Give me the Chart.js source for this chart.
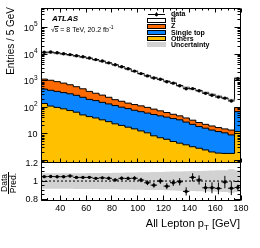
<!DOCTYPE html>
<html>
<head>
<meta charset="utf-8">
<script src="https://cdn.jsdelivr.net/npm/chart.js@4.4.1/dist/chart.umd.min.js"></script>
<style>
    html, body { margin: 0; padding: 0; background: #fff; }
</style>
</head>
<body>
<canvas id="leptonChart" width="260" height="248"></canvas>
<script>
// bins de 5 GeV, le dernier bin (175-180) contient l'overflow
const binEdges = [25, 30, 35, 40, 45, 50, 55, 60, 65, 70, 75, 80, 85, 90, 95, 100, 105, 110, 115, 120, 125, 130, 135, 140, 145, 150, 155, 160, 165, 170, 175, 180];
const dataCounts = [11950, 12080, 11320, 10480, 9710, 8790, 8010, 7180, 6280, 5540, 4740, 4000, 3400, 2830, 2320, 1870, 1530, 1270, 1140, 925, 815, 655, 505, 510, 425, 338, 287, 244, 223, 175, 1190];
const ttbar = [10240, 10450, 9870, 9180, 8490, 7850, 7200, 6500, 5760, 5060, 4360, 3755, 3130, 2605, 2122, 1736, 1460, 1244, 1066, 916, 775, 612, 530, 457, 393, 342, 290, 248, 210, 176, 1182];
const zjets = [673, 610, 530, 460, 385, 315, 260, 200, 160, 135, 105, 78, 68, 55, 50, 45, 39, 32, 26, 21, 17, 14, 12, 10, 8, 6.5, 6, 5.1, 4.5, 4.8, 29];
const singleTop = [347, 328, 300, 272, 249, 219, 188, 155, 140, 121, 106, 93, 81, 72, 62.5, 56, 50, 45.5, 40.8, 36.7, 32.8, 29.5, 24.1, 19.7, 16.1, 14, 11.9, 10.4, 9.15, 7.35, 56.7];
const others = [140, 112, 100, 88, 76, 66, 52, 45, 40, 34, 29, 24, 21, 18, 15.5, 13, 11, 8.5, 7.2, 6.3, 5.2, 4.5, 3.9, 3.3, 2.9, 2.5, 2.1, 1.9, 1.85, 1.85, 12.3];
// erreur stat relative (barres du rapport) et incertitude relative de la prédiction
const statErr = [0.01, 0.01, 0.01, 0.01, 0.011, 0.011, 0.012, 0.012, 0.013, 0.014, 0.015, 0.016, 0.018, 0.019, 0.021, 0.024, 0.026, 0.028, 0.03, 0.033, 0.036, 0.04, 0.045, 0.045, 0.05, 0.055, 0.06, 0.065, 0.068, 0.076, 0.03];
const systUnc = [0.085, 0.085, 0.085, 0.086, 0.086, 0.087, 0.087, 0.088, 0.088, 0.09, 0.09, 0.091, 0.092, 0.093, 0.095, 0.096, 0.098, 0.1, 0.1, 0.102, 0.104, 0.106, 0.108, 0.11, 0.112, 0.114, 0.116, 0.118, 0.12, 0.13, 0.12];
const xTicks = [40, 60, 80, 100, 120, 140, 160, 180];
const yDecades = [1, 2, 3, 4, 5];
const ratioTicks = [0.8, 1, 1.2];

const FONT = "'Liberation Sans', Arial, sans-serif";
const COL_Z = '#ff6a00', COL_ST = '#0a84ff', COL_OTH = '#ffc000', COL_UNC = '#d2d2d2';

// empilement
const cumOthers = others.slice();
const cumST = singleTop.map((v, i) => v + cumOthers[i]);
const cumZ = zjets.map((v, i) => v + cumST[i]);
const total = ttbar.map((v, i) => v + cumZ[i]);
const ratio = dataCounts.map((v, i) => v / total[i]);
const centers = dataCounts.map((v, i) => (binEdges[i] + binEdges[i + 1]) / 2);

// histogramme en escalier
function histo(vals) {
    var pts = vals.map((v, i) => ({ x: binEdges[i], y: v }));
    pts.push({ x: binEdges[vals.length], y: vals[vals.length - 1] });
    return pts;
}
// barres d'erreur horizontales / verticales (coupées par des null)
function hBars(vals) {
    var pts = [];
    vals.forEach((v, i) => {
        pts.push({ x: binEdges[i], y: v }, { x: binEdges[i + 1], y: v }, { x: binEdges[i + 1], y: null });
    });
    return pts;
}
function vBars(vals, errs) {
    var pts = [];
    vals.forEach((v, i) => {
        pts.push({ x: centers[i], y: v * (1 - errs[i]) }, { x: centers[i], y: v * (1 + errs[i]) }, { x: centers[i], y: null });
    });
    return pts;
}

function stackSet(vals, color, order) {
    return {
        data: histo(vals), stepped: true, yAxisID: 'y', order: order,
        borderColor: '#000', borderWidth: 1, backgroundColor: color, fill: 'start'
    };
}

const datasets = [
    // 0-2 : données
    { data: centers.map((c, i) => ({ x: c, y: dataCounts[i] })), showLine: false, yAxisID: 'y', order: 0,
      pointRadius: 1.7, pointBackgroundColor: '#000', pointBorderWidth: 0 },
    { data: hBars(dataCounts), yAxisID: 'y', order: 1, borderColor: '#000', borderWidth: 1, spanGaps: false },
    { data: vBars(dataCounts, statErr), yAxisID: 'y', order: 1, borderColor: '#000', borderWidth: 1, spanGaps: false },
    // 3-5 : rapport
    { data: centers.map((c, i) => ({ x: c, y: ratio[i] })), showLine: false, yAxisID: 'yr', order: 0,
      pointRadius: 1.7, pointBackgroundColor: '#000', pointBorderWidth: 0 },
    { data: hBars(ratio), yAxisID: 'yr', order: 1, borderColor: '#000', borderWidth: 1, spanGaps: false },
    { data: vBars(ratio, statErr.map((e, i) => e / ratio[i])), yAxisID: 'yr', order: 1, borderColor: '#000', borderWidth: 1, spanGaps: false },
    // 6 : ligne à 1
    { data: [{ x: 25, y: 1 }, { x: 180, y: 1 }], yAxisID: 'yr', order: 3, borderColor: '#000', borderWidth: 1, borderDash: [2, 2] },
    // 7-8 : bande d'incertitude du rapport
    { data: histo(systUnc.map(u => 1 + u)), stepped: true, yAxisID: 'yr', order: 4, borderWidth: 0, fill: false },
    { data: histo(systUnc.map(u => 1 - u)), stepped: true, yAxisID: 'yr', order: 4, borderWidth: 0, fill: '-1', backgroundColor: COL_UNC },
    // 9-10 : bande d'incertitude sur le total
    { data: histo(total.map((t, i) => t * (1 + systUnc[i]))), stepped: true, yAxisID: 'y', order: 5, borderWidth: 0, fill: false },
    { data: histo(total.map((t, i) => t * (1 - systUnc[i]))), stepped: true, yAxisID: 'y', order: 5, borderWidth: 0, fill: '-1', backgroundColor: 'rgba(190,190,190,0.6)' },
    // 11-14 : pile MC
    stackSet(cumOthers, COL_OTH, 6),
    stackSet(cumST, COL_ST, 7),
    stackSet(cumZ, COL_Z, 8),
    stackSet(total, '#fff', 9)
];

function px(v) { return Math.floor(v) + 0.5; }

// cadres, graduations, textes et légende façon ATLAS
const atlasDecor = {
    id: 'atlasDecor',
    afterDatasetsDraw(chart) {
        const ctx = chart.ctx;
        const sx = chart.scales.x, sy = chart.scales.y, sr = chart.scales.yr;
        const L = px(sx.left), R = px(sx.right - 1);
        const T = px(sy.top), M = px(sy.bottom), B = px(sr.bottom - 1);
        ctx.save();
        ctx.strokeStyle = '#000';
        ctx.lineWidth = 1;
        ctx.beginPath();
        ctx.rect(L, T, R - L, M - T);
        ctx.rect(L, M, R - L, B - M);
        // graduations x
        for (let v = 25; v <= 180; v += 5) {
            const X = px(sx.getPixelForValue(v));
            const big = v % 20 === 0;
            const l1 = big ? 4 : 2;
            ctx.moveTo(X, T); ctx.lineTo(X, T + l1);
            ctx.moveTo(X, M); ctx.lineTo(X, M - l1);
            const l2 = big ? 5 : 2.5;
            ctx.moveTo(X, B); ctx.lineTo(X, B - l2);
        }
        // graduations log
        for (let d = -1; d <= 5; d++) {
            for (let k = 1; k <= 9; k++) {
                const v = k * Math.pow(10, d);
                if (v < sy.min || v > sy.max) continue;
                const Y = px(sy.getPixelForValue(v));
                const l = k === 1 ? 6 : 3;
                ctx.moveTo(L, Y); ctx.lineTo(L + l, Y);
                ctx.moveTo(R, Y); ctx.lineTo(R - l, Y);
            }
        }
        // graduations du rapport
        for (let v = 0.8; v <= 1.2001; v += 0.05) {
            const Y = px(sr.getPixelForValue(v));
            const big = Math.abs(v * 10 - Math.round(v * 10)) < 1e-6 && Math.round(v * 10) % 2 === 0;
            const l = big ? 6 : 3;
            ctx.moveTo(L, Y); ctx.lineTo(L + l, Y);
            ctx.moveTo(R, Y); ctx.lineTo(R - l, Y);
        }
        ctx.stroke();

        ctx.fillStyle = '#000';
        // étiquettes x
        ctx.font = '9px ' + FONT;
        ctx.textAlign = 'center';
        ctx.textBaseline = 'middle';
        xTicks.forEach(v => ctx.fillText(String(v), sx.getPixelForValue(v), 209));
        // étiquettes log (10^n)
        ctx.textAlign = 'right';
        yDecades.forEach(d => {
            const Y = sy.getPixelForValue(Math.pow(10, d));
            let right = 37.5;
            if (d > 1) {
                ctx.font = '6.5px ' + FONT;
                ctx.fillText(String(d), right, Y - 3);
                right -= ctx.measureText(String(d)).width;
            }
            ctx.font = '9px ' + FONT;
            ctx.fillText('10', right, Y + 1);
        });
        // étiquettes du rapport
        ratioTicks.forEach(v => ctx.fillText(String(v), 38, sr.getPixelForValue(v) + 0.5));

        // titre x avec indice T
        ctx.textAlign = 'left';
        ctx.textBaseline = 'alphabetic';
        ctx.font = '11px ' + FONT;
        const t1 = 'All Lepton p', t3 = ' [GeV]';
        const w1 = ctx.measureText(t1).width, w3 = ctx.measureText(t3).width;
        ctx.font = '8px ' + FONT;
        const w2 = ctx.measureText('T').width;
        let x0 = 240 - (w1 + w2 + w3);
        ctx.font = '11px ' + FONT;
        ctx.fillText(t1, x0, 227);
        ctx.font = '8px ' + FONT;
        ctx.fillText('T', x0 + w1, 230);
        ctx.font = '11px ' + FONT;
        ctx.fillText(t3, x0 + w1 + w2, 227);

        // titre y
        ctx.save();
        ctx.translate(13.5, 7);
        ctx.rotate(-Math.PI / 2);
        ctx.font = '10px ' + FONT;
        ctx.textAlign = 'right';
        ctx.fillText('Entries / 5 GeV', 0, 0);
        ctx.restore();

        // Data / Pred.
        ctx.save();
        ctx.translate(8, 183);
        ctx.rotate(-Math.PI / 2);
        ctx.font = '8.5px ' + FONT;
        ctx.textAlign = 'center';
        ctx.textBaseline = 'alphabetic';
        ctx.fillText('Data', 0, -1.5);
        ctx.textBaseline = 'top';
        ctx.fillText('Pred.', 0, 1);
        ctx.beginPath();
        ctx.moveTo(-11, 0.5); ctx.lineTo(11, 0.5);
        ctx.stroke();
        ctx.restore();

        // ATLAS
        ctx.textAlign = 'left';
        ctx.textBaseline = 'alphabetic';
        ctx.font = 'italic bold 8px ' + FONT;
        ctx.fillText('ATLAS', 52, 20.5);
        ctx.font = '7px ' + FONT;
        ctx.fillText('\u221A', 51, 32);
        const wr = ctx.measureText('\u221A').width;
        ctx.fillText('s', 51 + wr, 32);
        const ws = ctx.measureText('s').width;
        ctx.beginPath();
        ctx.moveTo(51 + wr - 0.5, 26.5); ctx.lineTo(51 + wr + ws + 0.3, 26.5);
        ctx.stroke();
        const txt = ' = 8 TeV, 20.2 fb';
        ctx.fillText(txt, 51 + wr + ws, 32);
        const wt = ctx.measureText(txt).width;
        ctx.font = '5px ' + FONT;
        ctx.fillText('-1', 51 + wr + ws + wt + 0.3, 28.5);

        // légende
        const lx = 147, lw = 19, tx = 171;
        const rows = [14.3, 20.4, 26.5, 32.6, 38.7, 44.8];
        ctx.font = 'bold 7px ' + FONT;
        ctx.textBaseline = 'middle';
        // données
        ctx.beginPath();
        ctx.moveTo(lx + 1, px(rows[0])); ctx.lineTo(lx + lw - 1, px(rows[0]));
        ctx.moveTo(px(lx + lw / 2), rows[0] - 2); ctx.lineTo(px(lx + lw / 2), rows[0] + 2);
        ctx.stroke();
        ctx.beginPath();
        ctx.arc(lx + lw / 2, rows[0] + 0.3, 1.7, 0, Math.PI * 2);
        ctx.fill();
        ctx.fillText('data', tx, rows[0]);
        const boxes = [['#fff', rows[1]], [COL_Z, rows[2]], [COL_ST, rows[3]], [COL_OTH, rows[4]]];
        boxes.forEach(b => {
            ctx.fillStyle = b[0];
            ctx.fillRect(lx, Math.round(b[1] - 2.5), lw, 5);
            ctx.strokeRect(lx + 0.5, Math.round(b[1] - 2.5) + 0.5, lw - 1, 4);
        });
        ctx.fillStyle = COL_UNC;
        ctx.fillRect(lx, Math.round(rows[5] - 2.5), lw, 5);
        ctx.fillStyle = '#000';
        ctx.fillText('tt', tx, rows[1]);
        const wtt = ctx.measureText('t').width;
        ctx.beginPath();
        ctx.moveTo(tx + wtt, rows[1] - 3.8); ctx.lineTo(tx + 2 * wtt + 0.3, rows[1] - 3.8);
        ctx.lineWidth = 0.8;
        ctx.stroke();
        ctx.fillText('Z', tx, rows[2]);
        ctx.fillText('Single top', tx, rows[3]);
        ctx.fillText('Others', tx, rows[4]);
        ctx.fillText('Uncertainty', tx, rows[5]);
        ctx.restore();
    }
};

function hiddenAxis(extra) {
    return Object.assign({
        display: true,
        grid: { display: false },
        ticks: { display: false },
        border: { display: false }
    }, extra);
}

// l'ordre compte : les axes empilés à gauche sont placés en sens inverse
const leptonChart = new Chart(document.getElementById('leptonChart'), {
    type: 'line',
    data: { datasets: datasets },
    options: {
        responsive: false,
        animation: false,
        events: [],
        layout: { padding: { left: 41, right: 19, top: 8, bottom: 47 } },
        elements: { point: { radius: 0 }, line: { tension: 0 } },
        plugins: { legend: { display: false }, tooltip: { enabled: false } },
        scales: {
            x: hiddenAxis({ type: 'linear', min: 25, max: 180, afterFit: s => { s.height = 0; } }),
            yr: hiddenAxis({ type: 'linear', min: 0.78, max: 1.21, position: 'left', stack: 'pads', stackWeight: 39,
                afterFit: s => { s.width = 0; } }),
            y: hiddenAxis({ type: 'logarithmic', min: 0.88, max: 5.5e5, position: 'left', stack: 'pads', stackWeight: 154,
                afterFit: s => { s.width = 0; } })
        }
    },
    plugins: [atlasDecor]
});
</script>
</body>
</html>
